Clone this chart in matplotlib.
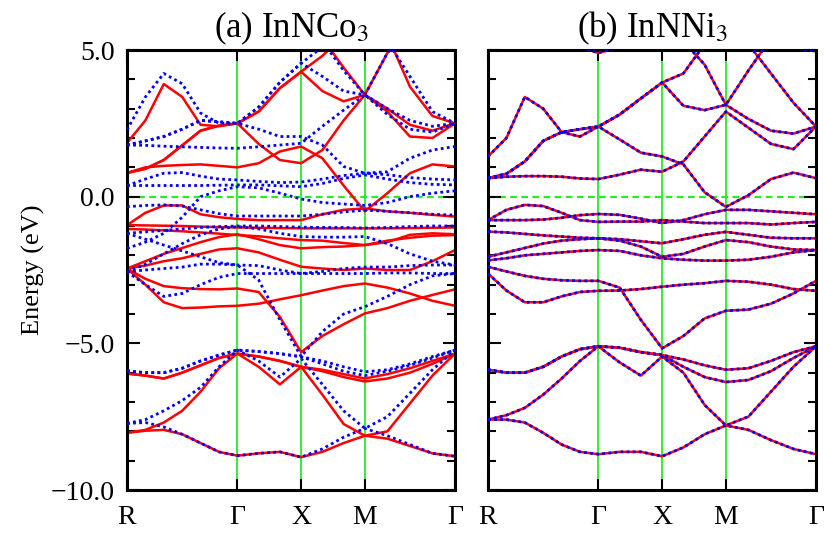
import numpy as np
import matplotlib
matplotlib.use('Agg')
import matplotlib.pyplot as plt

plt.rcParams['font.family'] = ['Liberation Serif', 'DejaVu Serif']
plt.rcParams['mathtext.fontset'] = 'stix'

# k-path R - G - X - M - G, number of sampled points per segment
seg_len = [np.sqrt(3), 1.0, 1.0, np.sqrt(2)]
seg_n = [6, 3, 3, 4]
kpt_labels = ['R', 'Γ', 'X', 'M', 'Γ']
titles = ['(a) InNCo$_3$', '(b) InNNi$_3$']
ytick_vals = [-10, -5, 0, 5]
ytick_text = ['\u221210.0', '\u22125.0', '0.0', '5.0']

# InNCo3, spin up (red)
co_up = [
    [-8.05, -7.98, -7.95, -8.1, -8.4, -8.7, -8.83, -8.75, -8.7, -8.88, -8.7, -8.4, -8.15, -8.25, -8.5, -8.75, -8.85],
    [-8.05, -7.95, -7.7, -7.3, -6.65, -5.85, -5.35, -5.8, -6.4, -5.8, -6.75, -7.75, -8.15, -8.0, -7.05, -6.1, -5.35],
    [-6.03, -6.1, -6.2, -6.0, -5.75, -5.5, -5.35, -5.45, -5.6, -5.8, -5.95, -6.15, -6.3, -6.2, -6.0, -5.7, -5.35],
    [-6.03, -6.1, -6.2, -6.0, -5.75, -5.5, -5.35, -5.45, -5.6, -5.8, -5.9, -6.05, -6.2, -6.05, -5.85, -5.6, -5.35],
    [-2.45, -3.0, -3.6, -3.8, -3.78, -3.74, -3.72, -3.65, -3.5, -3.36, -3.2, -3.05, -2.96, -3.1, -3.3, -3.55, -3.72],
    [-2.45, -2.8, -3.05, -3.12, -3.15, -3.16, -3.13, -3.25, -4.1, -5.3, -4.75, -4.35, -3.98, -3.8, -3.55, -3.35, -3.16],
    [-2.45, -2.35, -2.2, -2.1, -1.95, -1.8, -1.76, -1.9, -2.15, -2.39, -2.45, -2.5, -2.45, -2.5, -2.5, -2.2, -1.82],
    [-2.45, -2.2, -1.95, -1.75, -1.55, -1.38, -1.28, -1.45, -1.65, -1.76, -1.72, -1.7, -1.65, -1.55, -1.3, -1.25, -1.28],
    [-1.1, -1.12, -1.15, -1.18, -1.22, -1.26, -1.31, -1.35, -1.42, -1.48, -1.5, -1.58, -1.65, -1.5, -1.4, -1.33, -1.31],
    [-0.97, -0.98, -0.99, -1.0, -1.02, -1.04, -1.05, -1.06, -1.07, -1.08, -1.08, -1.08, -1.08, -1.08, -1.07, -1.06, -1.05],
    [-0.97, -0.55, -0.3, -0.3, -0.6, -0.7, -0.76, -0.8, -0.8, -0.8, -0.6, -0.45, -0.4, -0.5, -0.55, -0.62, -0.68],
    [0.81, 1.0, 1.05, 1.08, 1.1, 1.05, 1.0, 1.14, 1.54, 1.71, 1.31, 0.38, -0.5, 0.12, 0.8, 1.1, 1.03],
    [0.81, 0.95, 1.25, 1.75, 2.25, 2.42, 2.5, 2.9, 3.7, 4.26, 4.8, 5.5, 6.0, 5.8, 5.6, 5.3, 5.1],
    [0.81, 0.95, 1.25, 1.75, 2.25, 2.42, 2.5, 2.9, 3.7, 4.26, 3.6, 3.25, 3.47, 4.9, 5.8, 6.4, 6.8],
    [6.5, 6.4, 6.3, 6.2, 6.0, 5.9, 5.8, 5.9, 6.0, 6.0, 5.4, 4.4, 3.47, 3.0, 2.45, 2.25, 2.5],
    [7.0, 7.0, 7.0, 7.0, 7.0, 7.0, 7.0, 7.0, 7.0, 7.0, 6.8, 6.4, 6.0, 5.5, 3.75, 2.75, 2.5],
    [1.83, 2.6, 3.84, 3.4, 2.45, 2.4, 2.5, 1.8, 1.25, 1.14, 1.59, 2.6, 3.47, 2.9, 2.05, 2.0, 2.5],
]

# InNCo3, spin down (blue dotted)
co_dn = [
    [-7.73, -7.7, -7.85, -8.1, -8.4, -8.7, -8.83, -8.75, -8.7, -8.88, -8.6, -8.2, -7.9, -8.15, -8.45, -8.75, -8.85],
    [-7.73, -7.6, -7.3, -6.95, -6.5, -5.8, -5.23, -5.6, -6.15, -5.52, -6.4, -7.3, -7.9, -7.5, -6.7, -5.9, -5.23],
    [-5.94, -6.0, -6.0, -5.85, -5.6, -5.4, -5.23, -5.28, -5.35, -5.46, -5.6, -5.8, -5.97, -5.9, -5.7, -5.45, -5.23],
    [-5.94, -6.0, -6.0, -5.85, -5.6, -5.4, -5.23, -5.28, -5.35, -5.46, -5.7, -5.95, -6.1, -5.95, -5.75, -5.5, -5.23],
    [-2.56, -3.0, -3.4, -3.3, -3.0, -2.75, -2.62, -2.62, -2.62, -2.62, -2.62, -2.62, -2.62, -2.6, -2.6, -2.62, -2.62],
    [-2.56, -2.5, -2.45, -2.4, -2.3, -2.3, -2.33, -2.35, -2.5, -2.62, -2.55, -2.45, -2.4, -2.4, -2.35, -2.33, -2.33],
    [-1.25, -1.45, -1.65, -1.85, -2.05, -2.25, -2.33, -2.84, -4.2, -5.45, -4.6, -4.0, -3.75, -3.4, -3.0, -2.7, -2.62],
    [-2.56, -2.3, -1.95, -1.6, -1.3, -1.1, -1.02, -1.1, -1.25, -1.36, -1.38, -1.38, -1.36, -1.6, -1.95, -2.2, -2.33],
    [-1.25, -1.2, -1.15, -1.1, -1.05, -1.02, -1.0, -1.0, -1.02, -1.04, -1.05, -1.05, -1.07, -1.05, -1.02, -1.0, -1.0],
    [-0.34, -0.3, -0.28, -0.32, -0.45, -0.58, -0.66, -0.66, -0.66, -0.66, -0.6, -0.52, -0.46, -0.5, -0.55, -0.6, -0.63],
    [-1.76, -1.55, -1.25, -0.7, 0.0, 0.2, 0.34, 0.3, 0.12, -0.08, -0.2, -0.25, -0.3, -0.2, 0.0, 0.12, 0.2],
    [0.38, 0.38, 0.38, 0.38, 0.38, 0.39, 0.4, 0.4, 0.37, 0.34, 0.45, 0.62, 0.74, 0.6, 0.48, 0.42, 0.4],
    [0.38, 0.6, 0.8, 0.82, 0.7, 0.6, 0.57, 0.52, 0.48, 0.5, 0.6, 0.72, 0.8, 0.75, 0.65, 0.6, 0.57],
    [1.76, 1.75, 1.72, 1.7, 1.68, 1.66, 1.65, 1.7, 1.76, 1.82, 2.4, 2.95, 3.47, 2.8, 2.3, 2.2, 2.5],
    [1.76, 1.9, 2.05, 2.3, 2.6, 2.55, 2.5, 3.05, 3.9, 4.55, 5.1, 5.6, 6.0, 5.8, 5.6, 5.3, 5.1],
    [1.76, 1.9, 2.05, 2.3, 2.6, 2.55, 2.5, 3.05, 3.9, 4.55, 4.1, 3.6, 3.47, 4.9, 5.8, 6.4, 6.8],
    [6.5, 6.4, 6.3, 6.2, 6.0, 5.9, 5.8, 5.9, 6.0, 6.0, 5.3, 4.3, 3.47, 3.0, 2.6, 2.4, 2.5],
    [7.0, 7.0, 7.0, 7.0, 7.0, 7.0, 7.0, 7.0, 7.0, 7.0, 6.8, 6.4, 6.0, 5.3, 4.1, 2.9, 2.5],
    [2.28, 3.4, 4.2, 3.85, 2.85, 2.5, 2.5, 2.3, 2.05, 2.05, 1.76, 1.03, 0.8, 0.85, 1.31, 1.59, 1.71],
]

# InNNi3 (non magnetic, both spins equal)
ni_bands = [
    [-7.6, -7.6, -7.7, -8.05, -8.45, -8.7, -8.78, -8.7, -8.7, -8.85, -8.55, -8.1, -7.8, -7.95, -8.3, -8.6, -8.78],
    [-7.6, -7.45, -7.2, -6.75, -6.2, -5.6, -5.1, -5.65, -6.1, -5.45, -6.0, -7.1, -7.8, -7.5, -6.65, -5.8, -5.1],
    [-5.9, -6.0, -6.0, -5.8, -5.45, -5.2, -5.1, -5.15, -5.3, -5.4, -5.55, -5.75, -5.9, -5.85, -5.6, -5.3, -5.1],
    [-5.9, -6.0, -6.0, -5.8, -5.45, -5.2, -5.1, -5.15, -5.3, -5.4, -5.8, -6.15, -6.32, -6.25, -5.95, -5.5, -5.1],
    [-2.62, -3.2, -3.6, -3.6, -3.4, -3.25, -3.21, -3.2, -3.15, -3.07, -3.0, -2.95, -2.87, -2.9, -3.0, -3.15, -3.21],
    [-2.39, -2.55, -2.7, -2.8, -2.85, -2.87, -2.87, -3.1, -4.2, -5.17, -4.75, -4.15, -3.89, -3.85, -3.65, -3.3, -2.87],
    [-2.17, -2.1, -2.0, -1.95, -1.9, -1.85, -1.82, -1.85, -2.0, -2.1, -2.15, -2.18, -2.18, -2.15, -2.05, -1.9, -1.82],
    [-2.05, -1.9, -1.75, -1.6, -1.5, -1.45, -1.42, -1.45, -1.52, -1.59, -1.45, -1.3, -1.2, -1.3, -1.4, -1.42, -1.42],
    [-1.19, -1.22, -1.27, -1.32, -1.36, -1.4, -1.42, -1.5, -1.7, -2.05, -1.95, -1.7, -1.48, -1.55, -1.7, -1.8, -1.82],
    [-0.8, -0.45, -0.28, -0.32, -0.55, -0.8, -0.86, -0.85, -0.85, -0.8, -0.85, -0.9, -0.9, -0.9, -0.95, -0.9, -0.86],
    [-0.8, -0.8, -0.8, -0.78, -0.72, -0.63, -0.59, -0.62, -0.75, -0.9, -0.8, -0.6, -0.45, -0.45, -0.5, -0.55, -0.6],
    [0.63, 0.68, 0.7, 0.7, 0.68, 0.62, 0.6, 0.75, 0.92, 0.85, 1.2, 2.05, 2.9, 2.35, 1.8, 1.62, 2.39],
    [0.63, 0.78, 1.2, 1.9, 2.2, 2.3, 2.39, 2.8, 3.35, 3.89, 4.2, 5.2, 6.0, 5.5, 5.3, 5.1, 4.95],
    [0.63, 0.78, 1.2, 1.9, 2.2, 2.3, 2.39, 2.8, 3.35, 3.89, 3.1, 2.95, 3.13, 4.3, 5.4, 6.2, 6.5],
    [6.0, 5.9, 5.8, 5.6, 5.4, 5.1, 4.9, 5.1, 5.4, 5.6, 5.3, 4.5, 3.13, 2.65, 2.25, 2.15, 2.39],
    [7.0, 7.0, 7.0, 7.0, 7.0, 7.0, 7.0, 7.0, 7.0, 6.5, 6.2, 6.0, 5.8, 5.2, 4.2, 3.2, 2.39],
    [1.37, 2.0, 3.4, 3.0, 2.2, 2.05, 2.39, 1.95, 1.5, 1.37, 1.1, 0.15, -0.35, 0.05, 0.6, 0.82, 0.63],
]

# k coordinates of the sampled points
k = [0.0]
for L, n in zip(seg_len, seg_n):
    start = k[-1]
    k += list(start + L * np.arange(1, n + 1) / n)
k = np.array(k)
kticks = np.concatenate([[0], np.cumsum(seg_len)])

fig = plt.figure(figsize=(8.3, 5.38), dpi=100)
ax1 = fig.add_axes([127/830, 48/538, 328/830, 440/538])
ax2 = fig.add_axes([488/830, 48/538, 328/830, 440/538])

green = '#22ee22'
for ax, up, dn, title in [(ax1, co_up, co_dn, titles[0]), (ax2, ni_bands, ni_bands, titles[1])]:
    for kk in kticks[1:-1]:
        ax.axvline(kk, color=green, lw=1.3, zorder=1)
    ax.axhline(0, color=green, lw=1.6, ls=(0, (3, 2)), zorder=1)
    for b in up:
        ax.plot(k, b, color='red', lw=1.8, zorder=2, solid_joinstyle='round')
    for b in dn:
        ax.plot(k, b, color='blue', lw=2.0, ls=(0, (1, 1.2)), zorder=3)
    ax.set_xlim(kticks[0], kticks[-1])
    ax.set_ylim(-10, 5)
    ax.set_xticks(kticks)
    ax.set_xticklabels(kpt_labels, fontsize=20)
    ax.set_yticks(ytick_vals)
    ax.set_yticks(np.arange(-10, 6, 1), minor=True)
    ax.tick_params(axis='y', which='both', direction='in', left=True, right=True, width=1.5, pad=9)
    ax.tick_params(axis='y', which='major', length=9)
    ax.tick_params(axis='y', which='minor', length=6)
    ax.tick_params(axis='x', direction='in', top=True, bottom=True, length=8, width=1.5, pad=11)
    for s in ax.spines.values():
        s.set_linewidth(2.2)
    ax.text(0.5, 1.05, title, transform=ax.transAxes, ha='center', va='center', fontsize=25)

ax1.set_yticklabels(ytick_text, fontsize=20)
ax1.set_ylabel('Energy (eV)', fontsize=19, labelpad=4)
ax2.set_yticklabels([])

fig.savefig('out.png', dpi=100)
